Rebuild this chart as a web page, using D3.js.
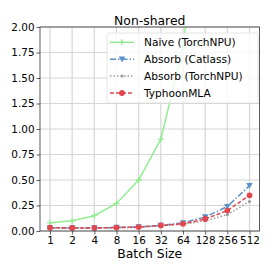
<!DOCTYPE html>
<html><head><meta charset="utf-8">
<script src="https://cdn.jsdelivr.net/npm/d3@7"></script>
<style>body{margin:0;background:#fff}svg{display:block}text{font-family:"DejaVu Sans",sans-serif;fill:#000}</style>
</head><body>
<svg id="c" width="274" height="274"></svg>
<script>
const batchSizes = ["1","2","4","8","16","32","64","128","256","512"];
const naiveTorchNPU = [0.08,0.10,0.15,0.27,0.50,0.90,1.80,3.60,7.20,14.4];
const absorbCatlass = [0.03,0.03,0.03,0.035,0.04,0.055,0.08,0.138,0.24,0.445];
const absorbTorchNPU = [0.03,0.03,0.03,0.032,0.036,0.05,0.065,0.10,0.16,0.29];
const typhoonMLA = [0.032,0.03,0.03,0.034,0.038,0.055,0.07,0.118,0.20,0.35];
const yTicks = [0,0.25,0.5,0.75,1.0,1.25,1.5,1.75,2.0];
const title = "Non-shared", xLabel = "Batch Size";

const series = [
  {name:"Naive (TorchNPU)", values:naiveTorchNPU, color:"#90ee90", dash:null, marker:"plus", w:1.5},
  {name:"Absorb (Catlass)", values:absorbCatlass, color:"#5b8fc7", dash:"6,2,1.5,2", marker:"tri", w:1.5},
  {name:"Absorb (TorchNPU)", values:absorbTorchNPU, color:"#999999", dash:"1.5,2", marker:"dot", w:1.5},
  {name:"TyphoonMLA", values:typhoonMLA, color:"#e0474f", dash:"4,2", marker:"circle", w:1.5}
];

const L=40, R=259.5, T=27, B=231;
const svg = d3.select("#c");
const x = d3.scaleLinear().domain([-0.45, batchSizes.length-1+0.45]).range([L,R]);
const y = d3.scaleLinear().domain([0,2]).range([B,T]);

// grid
const g = svg.append("g");
g.selectAll("line.vg").data(batchSizes).join("line")
  .attr("x1",(d,i)=>x(i)).attr("x2",(d,i)=>x(i)).attr("y1",T).attr("y2",B)
  .attr("stroke","#d6d6d6").attr("stroke-width",1.2);
g.selectAll("line.hg").data(yTicks).join("line")
  .attr("x1",L).attr("x2",R).attr("y1",d=>y(d)).attr("y2",d=>y(d))
  .attr("stroke","#d6d6d6").attr("stroke-width",1.2);

// axes
const xAxis = d3.axisBottom(x).tickValues(d3.range(batchSizes.length)).tickFormat(i=>batchSizes[i]).tickSize(3.5).tickPadding(2);
const yAxis = d3.axisLeft(y).tickValues(yTicks).tickFormat(d3.format(".2f")).tickSize(3.5).tickPadding(2);
const ax = svg.append("g").attr("transform",`translate(0,${B})`).call(xAxis);
const ay = svg.append("g").attr("transform",`translate(${L},0)`).call(yAxis);
[ax,ay].forEach(a=>{a.select(".domain").remove();a.selectAll("text").attr("font-size",10.4).attr("font-family","DejaVu Sans").attr("fill","#000");a.selectAll("line").attr("stroke","#333").attr("stroke-width",0.8);});

// clip
svg.append("clipPath").attr("id","clip").append("rect").attr("x",L).attr("y",T).attr("width",R-L).attr("height",B-T);
const plot = svg.append("g").attr("clip-path","url(#clip)");

function drawMarker(sel, type, color){
  if(type==="plus"){
    sel.append("path").attr("d","M-3,0H3M0,-3V3").attr("stroke",color).attr("stroke-width",1.3).attr("fill","none");
  } else if(type==="tri"){
    sel.append("path").attr("d","M-3.2,-2.6L3.2,-2.6L0,3.2Z").attr("fill",color);
  } else if(type==="dot"){
    sel.append("circle").attr("r",1.5).attr("fill",color);
  } else {
    sel.append("circle").attr("r",2.9).attr("fill",color);
  }
}

const line = d3.line().x((d,i)=>x(i)).y(d=>y(d));
series.forEach(s=>{
  plot.append("path").datum(s.values).attr("d",line).attr("fill","none")
    .attr("stroke",s.color).attr("stroke-width",s.w).attr("stroke-dasharray",s.dash);
  s.values.forEach((v,i)=>{
    const m = plot.append("g").attr("transform",`translate(${x(i)},${y(v)})`);
    drawMarker(m,s.marker,s.color);
  });
});

// frame
svg.append("rect").attr("x",L).attr("y",T).attr("width",R-L).attr("height",B-T)
  .attr("fill","none").attr("stroke","#333").attr("stroke-width",0.8);

// legend
const lg = svg.append("g");
lg.append("rect").attr("x",107).attr("y",33).attr("width",151).attr("height",70).attr("rx",2)
  .attr("fill","#fff").attr("fill-opacity",0.8).attr("stroke","#ddd").attr("stroke-width",0.8);
series.forEach((s,i)=>{
  const cy = 42.3 + i*16.9;
  lg.append("line").attr("x1",110).attr("x2",134).attr("y1",cy).attr("y2",cy)
    .attr("stroke",s.color).attr("stroke-width",s.w).attr("stroke-dasharray",s.dash);
  drawMarker(lg.append("g").attr("transform",`translate(122,${cy})`), s.marker, s.color);
  lg.append("text").attr("x",144).attr("y",cy+3.8).attr("font-size",10.6).text(s.name);
});

// title & labels
svg.append("text").attr("x",(L+R)/2).attr("y",24.5).attr("text-anchor","middle").attr("font-size",12.4).text(title);
svg.append("text").attr("x",(L+R)/2).attr("y",257.5).attr("text-anchor","middle").attr("font-size",12.4).text(xLabel);
</script>
</body></html>
